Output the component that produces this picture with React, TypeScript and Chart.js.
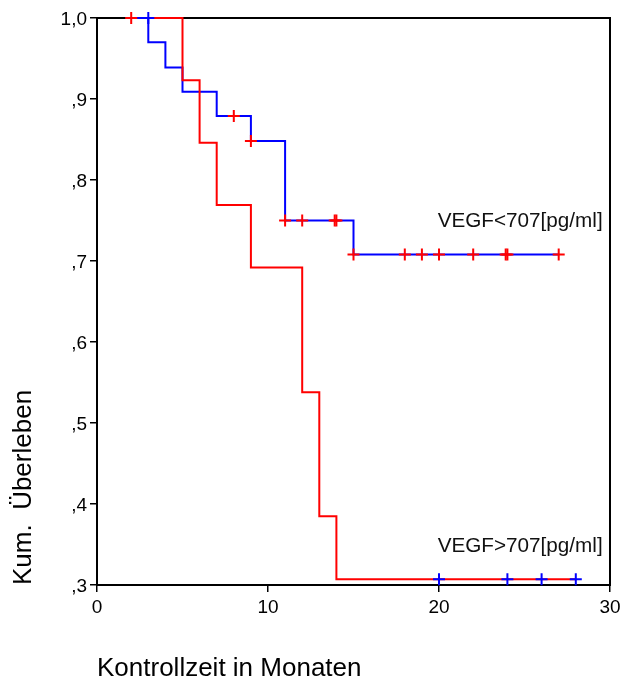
import { useEffect, useRef } from "react";
import { Chart, registerables } from "chart.js";

Chart.register(...registerables);

const xTickValues = [0, 10, 20, 30];
const xTickLabels = ["0", "10", "20", "30"];
const yTickValues = [0.3, 0.4, 0.5, 0.6, 0.7, 0.8, 0.9, 1.0];
const yTickLabels = [",3", ",4", ",5", ",6", ",7", ",8", ",9", "1,0"];

// VEGF<707 group (blue line, red censor marks)
const lowTimes = [2, 3, 4, 5, 7, 9, 11, 15, 27];
const lowSurv = [1.0, 0.97, 0.939, 0.909, 0.879, 0.848, 0.75, 0.708, 0.708];
const lowCensorTimes = [2, 8, 9, 11, 12, 13.9, 14, 15, 18, 19, 20, 22, 23.9, 24, 27];
const lowCensorSurv = [1.0, 0.879, 0.848, 0.75, 0.75, 0.75, 0.75, 0.708, 0.708, 0.708, 0.708, 0.708, 0.708, 0.708, 0.708];

// VEGF>707 group (red line, blue censor marks)
const highTimes = [3, 5, 6, 7, 9, 12, 13, 14, 28];
const highSurv = [1.0, 0.923, 0.846, 0.769, 0.692, 0.538, 0.385, 0.307, 0.307];
const highCensorTimes = [3, 20, 24, 26, 28];
const highCensorSurv = [1.0, 0.307, 0.307, 0.307, 0.307];

const groupLabels = ["VEGF<707[pg/ml]", "VEGF>707[pg/ml]"];
const groupLabelAnchors = [
  { x: 29.57, y: 0.749 },
  { x: 29.57, y: 0.348 },
];
const xTitle = "Kontrollzeit in Monaten";
const yTitle = "Kum.  Überleben";

const FONT = '"Liberation Sans", Arial, Helvetica, sans-serif';

const pts = (xs: number[], ys: number[]) => xs.map((x, i) => ({ x, y: ys[i] }));

const framePlugin = {
  id: "frame",
  beforeDatasetsDraw(chart: any) {
    const { ctx, chartArea } = chart;
    ctx.save();
    ctx.strokeStyle = "#000";
    ctx.lineWidth = 2;
    ctx.strokeRect(chartArea.left, chartArea.top, chartArea.right - chartArea.left, chartArea.bottom - chartArea.top);
    ctx.restore();
  },
  afterDatasetsDraw(chart: any) {
    const { ctx } = chart;
    const xs = chart.scales.x;
    const ys = chart.scales.y;
    ctx.save();
    ctx.fillStyle = "#111";
    ctx.font = `20.7px ${FONT}`;
    ctx.textAlign = "right";
    ctx.textBaseline = "middle";
    groupLabels.forEach((t, i) => {
      ctx.fillText(t, xs.getPixelForValue(groupLabelAnchors[i].x), ys.getPixelForValue(groupLabelAnchors[i].y));
    });
    ctx.restore();
  },
};

export default function App() {
  const ref = useRef<HTMLCanvasElement | null>(null);
  useEffect(() => {
    if (!ref.current) return;
    const chart = new Chart(ref.current, {
      type: "scatter",
      data: {
        datasets: [
          {
            data: pts(lowCensorTimes, lowCensorSurv),
            showLine: false,
            pointStyle: "cross",
            pointRadius: 6,
            pointBorderWidth: 2,
            borderColor: "#ff0000",
            backgroundColor: "#ff0000",
            clip: false,
          } as any,
          {
            data: pts(highCensorTimes, highCensorSurv),
            showLine: false,
            pointStyle: "cross",
            pointRadius: 6,
            pointBorderWidth: 2,
            borderColor: "#0000ff",
            backgroundColor: "#0000ff",
            clip: false,
          } as any,
          {
            data: pts(highTimes, highSurv),
            showLine: true,
            stepped: "before",
            borderColor: "#ff0000",
            borderWidth: 2,
            pointRadius: 0,
            fill: false,
            clip: false,
          } as any,
          {
            data: pts(lowTimes, lowSurv),
            showLine: true,
            stepped: "before",
            borderColor: "#0000ff",
            borderWidth: 2,
            pointRadius: 0,
            fill: false,
            clip: false,
          } as any,
        ],
      },
      options: {
        responsive: false,
        animation: false,
        events: [],
        layout: { padding: { left: 0, top: 18, right: 11, bottom: 0 } },
        plugins: { legend: { display: false }, tooltip: { enabled: false } },
        scales: {
          x: {
            type: "linear",
            min: 0,
            max: 30,
            afterBuildTicks: (s: any) => {
              s.ticks = xTickValues.map((v) => ({ value: v }));
            },
            afterFit: (s: any) => {
              s.height = 97;
              s.paddingLeft = 0;
              s.paddingRight = 0;
            },
            border: { display: false },
            grid: { drawOnChartArea: false, drawTicks: true, tickLength: 7, color: "#000", lineWidth: 1.5 },
            ticks: {
              color: "#000",
              font: { family: FONT, size: 19 },
              padding: 4,
              maxRotation: 0,
              callback: (_v: any, i: number) => xTickLabels[i],
            },
            title: {
              display: true,
              text: xTitle,
              align: "start",
              color: "#000",
              font: { family: FONT, size: 26, lineHeight: 1 },
              padding: { top: 0, bottom: 0 },
            },
          },
          y: {
            type: "linear",
            min: 0.3,
            max: 1.0,
            afterBuildTicks: (s: any) => {
              s.ticks = yTickValues.map((v) => ({ value: v }));
            },
            afterFit: (s: any) => {
              s.width = 97;
              s.paddingTop = 0;
              s.paddingBottom = 0;
            },
            border: { display: false },
            grid: { drawOnChartArea: false, drawTicks: true, tickLength: 7, color: "#000", lineWidth: 1.5 },
            ticks: {
              color: "#000",
              font: { family: FONT, size: 19 },
              padding: 3,
              labelOffset: 2,
              callback: (_v: any, i: number) => yTickLabels[i],
            },
            title: {
              display: true,
              text: yTitle,
              align: "start",
              color: "#000",
              font: { family: FONT, size: 26, lineHeight: 1 },
              padding: { top: 11, bottom: 0 },
            },
          },
        },
      } as any,
      plugins: [framePlugin],
    });
    return () => chart.destroy();
  }, []);
  return (
    <div style={{ position: "absolute", left: 0, top: 0, width: 621, height: 682, background: "#fff" }}>
      <canvas ref={ref} width={621} height={682} />
    </div>
  );
}
